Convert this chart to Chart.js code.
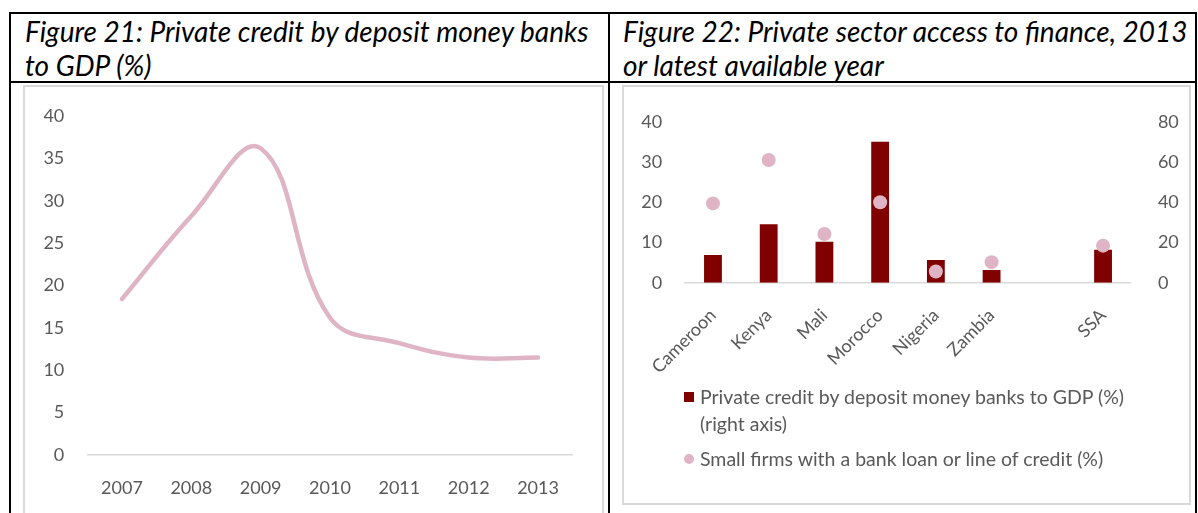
<!DOCTYPE html>
<html>
<head>
<meta charset="utf-8">
<script src="https://cdn.jsdelivr.net/npm/chart.js@4/dist/chart.umd.min.js"></script>
<style>
  body{margin:0;background:#fff;width:1198px;height:513px;overflow:hidden;position:relative;font-family:Lato,sans-serif}
  .rule{position:absolute;background:#000}
  .box{position:absolute;border:2px solid #d9d9d9;box-sizing:border-box}
  .title{position:absolute;font-style:italic;font-size:28px;line-height:34px;color:#000;white-space:nowrap}
  .cv{position:absolute}
  #legend{position:absolute;left:684px;top:383px;font-size:19.5px;color:#595959;line-height:27px}
  #legend .item{position:relative;padding-left:16px;margin-bottom:8px}
  #legend .mk{position:absolute;left:0;top:9px;width:10px;height:10px}
</style>
</head>
<body>
<div class="rule" style="left:9px;top:12px;width:1188px;height:2px"></div>
<div class="rule" style="left:9px;top:81px;width:1188px;height:2px"></div>
<div class="rule" style="left:9px;top:12px;width:2px;height:501px"></div>
<div class="rule" style="left:608px;top:12px;width:2px;height:501px"></div>
<div class="rule" style="left:1195px;top:12px;width:2px;height:501px"></div>

<div class="title" style="left:25px;top:14px">Figure 21: Private credit by deposit money banks<br>to GDP (%)</div>
<div class="title" style="left:623px;top:14px">Figure 22: Private sector access to finance, 2013<br>or latest available year</div>

<div class="box" style="left:23px;top:85px;width:581px;height:440px"></div>
<div class="box" style="left:622px;top:85px;width:569px;height:420px"></div>

<canvas id="linha" class="cv" style="left:24px;top:88px" width="578" height="425"></canvas>
<canvas id="barras" class="cv" style="left:624px;top:88px" width="565" height="300"></canvas>
<div id="legend"></div>

<script>
// Figure 21
const anos = ['2007','2008','2009','2010','2011','2012','2013'];
const creditoPIB = [18.4, 28.2, 36.2, 16.2, 13.2, 11.5, 11.5];

// Figure 22
const paises = ['Cameroon','Kenya','Mali','Morocco','Nigeria','Zambia','','SSA'];
const creditoBancos = [13.8, 29.0, 20.4, 70.0, 11.3, 6.3, null, 16.4];
const pequenasEmpresas = [19.7, 30.5, 12.1, 20.0, 2.8, 5.1, null, 9.2];

const rosa = '#dfb5c5';
const vinho = '#800000';
const cinza = '#595959';

Chart.defaults.font.family = 'Lato';
Chart.defaults.font.size = 18;
Chart.defaults.color = cinza;
Chart.defaults.animation = false;

// largura fixa do eixo y, sem a folga que o Chart.js reserva para os rótulos
function fixW(w){ return s => { s.width = w; s.paddingTop = 0; s.paddingBottom = 0; }; }
function fixH(h){ return s => { s.height = h; }; }

new Chart(linha, {
  type:'line',
  data:{
    labels: anos,
    datasets:[{
      data: creditoPIB,
      borderColor: rosa,
      borderWidth: 4.5,
      borderCapStyle:'round',
      pointRadius: 0,
      tension: 0.4
    }]
  },
  options:{
    responsive:false,
    layout:{padding:{top:28, right:29.3}},
    plugins:{legend:{display:false}, tooltip:{enabled:false}},
    scales:{
      x:{
        offset:true,
        grid:{display:true, drawOnChartArea:false, drawTicks:false},
        border:{display:true, color:'#d9d9d9', width:1.5},
        ticks:{padding:22, maxRotation:0},
        afterFit: fixH(58)
      },
      y:{
        min:0, max:40,
        ticks:{stepSize:5, padding:23},
        grid:{display:false, drawTicks:false},
        border:{display:false},
        afterFit: fixW(63.3)
      }
    }
  }
});

const graf = new Chart(barras, {
  data:{
    labels: paises,
    datasets:[{
      type:'bar',
      label:'Private credit by deposit money banks to GDP (%) (right axis)',
      data: creditoBancos,
      backgroundColor: vinho,
      yAxisID:'y2',
      categoryPercentage:1,
      barPercentage:0.32,
      order:2
    },{
      type:'line',
      label:'Small firms with a bank loan or line of credit (%)',
      data: pequenasEmpresas,
      showLine:false,
      pointRadius:7,
      pointBackgroundColor: rosa,
      pointBorderWidth:0,
      yAxisID:'y',
      order:1
    }]
  },
  options:{
    responsive:false,
    layout:{padding:{top:33.7}},
    plugins:{legend:{display:false}, tooltip:{enabled:false}},
    scales:{
      x:{
        grid:{display:true, drawOnChartArea:false, drawTicks:false},
        border:{display:true, color:'#d9d9d9', width:1.5},
        ticks:{padding:22, minRotation:45, maxRotation:45},
        afterFit: fixH(105.3)
      },
      y:{
        position:'left',
        min:0, max:40,
        ticks:{stepSize:10, padding:23},
        grid:{display:false, drawTicks:false},
        border:{display:false},
        afterFit: fixW(61.1)
      },
      y2:{
        position:'right',
        min:0, max:80,
        ticks:{stepSize:20, padding:27},
        grid:{display:false, drawTicks:false},
        border:{display:false},
        afterFit: fixW(58.1)
      }
    }
  }
});

// legenda em HTML para quebrar a primeira linha
const leg = document.getElementById('legend');
leg.innerHTML = `
  <div class="item"><span class="mk" style="background:${vinho}"></span>Private credit by deposit money banks to GDP (%)<br>(right axis)</div>
  <div class="item"><span class="mk" style="background:${rosa};border-radius:50%"></span>${graf.data.datasets[1].label}</div>`;
</script>
</body>
</html>
